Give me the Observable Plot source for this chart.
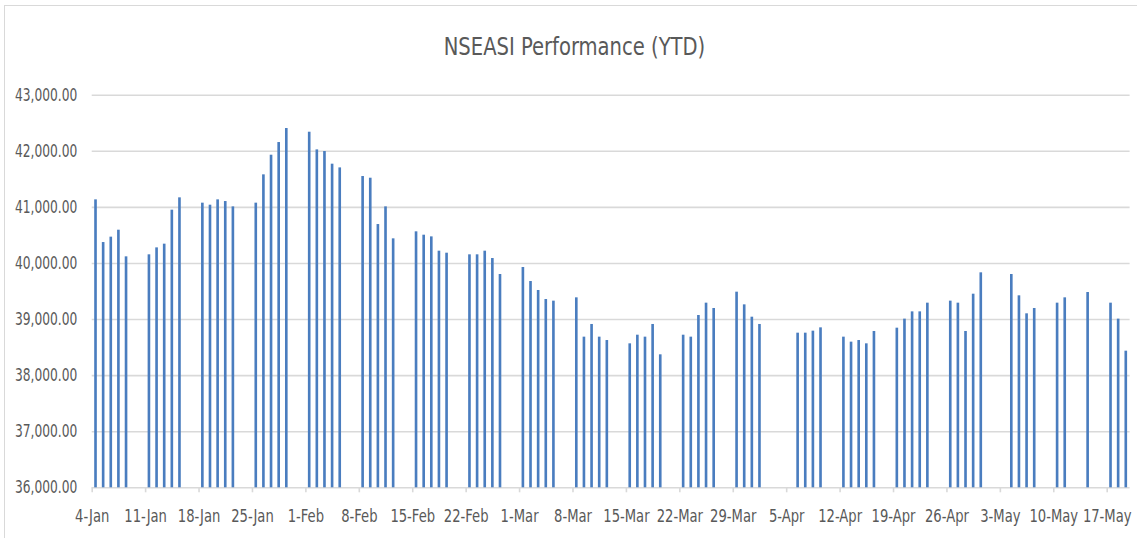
<!DOCTYPE html>
<html>
<head>
<meta charset="utf-8">
<script src="https://cdn.jsdelivr.net/npm/d3@7"></script>
<script src="https://cdn.jsdelivr.net/npm/@observablehq/plot@0.6"></script>
<style>
  html, body { margin: 0; padding: 0; background: #fff; }
  body { width: 1137px; height: 538px; overflow: hidden; position: relative; }
  #frame { position: absolute; left: 4px; top: 5px; width: 1150px; height: 560px;
           border: 1.5px solid #d9d9d9; box-sizing: border-box; }
  #title { position: absolute; left: 0; top: 0; }
  #chart { position: absolute; left: 0; top: 0; }
</style>
</head>
<body>
<div id="frame"></div>
<div id="chart"></div>
<svg id="title" width="1137" height="80"></svg>
<script>
const chartTitle = "NSEASI Performance (YTD)";
const tradingDays = [
  "2021-01-04","2021-01-05","2021-01-06","2021-01-07","2021-01-08",
  "2021-01-11","2021-01-12","2021-01-13","2021-01-14","2021-01-15",
  "2021-01-18","2021-01-19","2021-01-20","2021-01-21","2021-01-22",
  "2021-01-25","2021-01-26","2021-01-27","2021-01-28","2021-01-29",
  "2021-02-01","2021-02-02","2021-02-03","2021-02-04","2021-02-05",
  "2021-02-08","2021-02-09","2021-02-10","2021-02-11","2021-02-12",
  "2021-02-15","2021-02-16","2021-02-17","2021-02-18","2021-02-19",
  "2021-02-22","2021-02-23","2021-02-24","2021-02-25","2021-02-26",
  "2021-03-01","2021-03-02","2021-03-03","2021-03-04","2021-03-05",
  "2021-03-08","2021-03-09","2021-03-10","2021-03-11","2021-03-12",
  "2021-03-15","2021-03-16","2021-03-17","2021-03-18","2021-03-19",
  "2021-03-22","2021-03-23","2021-03-24","2021-03-25","2021-03-26",
  "2021-03-29","2021-03-30","2021-03-31","2021-04-01",
  "2021-04-06","2021-04-07","2021-04-08","2021-04-09",
  "2021-04-12","2021-04-13","2021-04-14","2021-04-15","2021-04-16",
  "2021-04-19","2021-04-20","2021-04-21","2021-04-22","2021-04-23",
  "2021-04-26","2021-04-27","2021-04-28","2021-04-29","2021-04-30",
  "2021-05-04","2021-05-05","2021-05-06","2021-05-07",
  "2021-05-10","2021-05-11","2021-05-14",
  "2021-05-17","2021-05-18","2021-05-19"
];
const closes = [
  41134, 40373, 40469, 40593, 40118,
  40154, 40278, 40344, 40950, 41170,
  41075, 41039, 41134, 41104, 41009,
  41075, 41580, 41930, 42156, 42406,
  42340, 42025, 41996, 41770, 41704,
  41550, 41520, 40694, 41009, 40439,
  40564, 40504, 40474, 40219, 40183,
  40154, 40154, 40219, 40088, 39803,
  39928, 39678, 39518, 39357, 39328,
  39387, 38686, 38912, 38686, 38626,
  38567, 38721, 38686, 38912, 38371,
  38721, 38686, 39072, 39292, 39197,
  39488, 39262, 39042, 38912,
  38757, 38757, 38793, 38852,
  38686, 38597, 38626, 38567, 38787,
  38846, 39007, 39137, 39137, 39292,
  39328, 39292, 38787, 39452, 39833,
  39803, 39423, 39102, 39197,
  39292, 39387, 39482,
  39292, 39007, 38436
];
const xStart = "2021-01-04";
const xEnd = "2021-05-20";
const weekTicks = ["2021-01-04","2021-01-11","2021-01-18","2021-01-25","2021-02-01","2021-02-08",
  "2021-02-15","2021-02-22","2021-03-01","2021-03-08","2021-03-15","2021-03-22","2021-03-29",
  "2021-04-05","2021-04-12","2021-04-19","2021-04-26","2021-05-03","2021-05-10","2021-05-17"];
const yTicks = [36000, 37000, 38000, 39000, 40000, 41000, 42000, 43000];
const yBase = 36000;

const data = tradingDays.map((d, i) => ({date: new Date(d + "T00:00:00Z"), value: closes[i]}));
const tickDates = weekTicks.map(d => new Date(d + "T00:00:00Z"));

const font = '"DejaVu Sans Condensed", "DejaVu Sans", sans-serif';
const grid = "#d9d9d9";
const textColor = "#595959";

const plot = Plot.plot({
  width: 1137,
  height: 538,
  marginLeft: 91.7,
  marginRight: 7.4,
  marginTop: 94.7,
  marginBottom: 50.7,
  style: {fontFamily: font, fontSize: "17px", color: textColor, background: "transparent", overflow: "visible"},
  x: {type: "utc", domain: [new Date(xStart + "T00:00:00Z"), new Date(xEnd + "T00:00:00Z")]},
  y: {domain: [yTicks[0], yTicks[yTicks.length - 1]]},
  marks: [
    Plot.ruleY(yTicks, {stroke: grid, strokeWidth: 1.6}),
    Plot.rectY(data, {x: "date", interval: "day", y1: () => yBase, y2: "value",
      fill: "#4A7DBF", insetLeft: 2.5, insetRight: 2.5}),
    Plot.axisY({ticks: yTicks, tickFormat: d3.format(",.2f"), tickSize: 0, tickPadding: 15, label: null}),
    Plot.axisX({ticks: tickDates, tickFormat: d3.utcFormat("%-d-%b"), tickSize: 5, tickPadding: 17,
      stroke: grid, strokeWidth: 1.6, label: null})
  ]
});
document.getElementById("chart").appendChild(plot);

// narrow the condensed glyphs to the reference's Calibri-like widths
function squeeze(t, factor) {
  const w = t.getComputedTextLength();
  if (w > 0) {
    t.setAttribute("textLength", (w * factor).toFixed(2));
    t.setAttribute("lengthAdjust", "spacingAndGlyphs");
  }
}
plot.querySelectorAll("text").forEach(t => {
  const s = t.textContent;
  if (/\d,\d{3}\.\d\d/.test(s)) squeeze(t, 0.8);
  else if (/-[A-Z][a-z]+$/.test(s)) squeeze(t, 0.86);
});

// title
const tsvg = d3.select("#title");
const tt = tsvg.append("text")
  .attr("x", 574.5).attr("y", 55)
  .attr("text-anchor", "middle")
  .attr("font-family", font)
  .attr("font-size", 25)
  .attr("fill", textColor)
  .text(chartTitle);
squeeze(tt.node(), 0.87);
</script>
</body>
</html>
